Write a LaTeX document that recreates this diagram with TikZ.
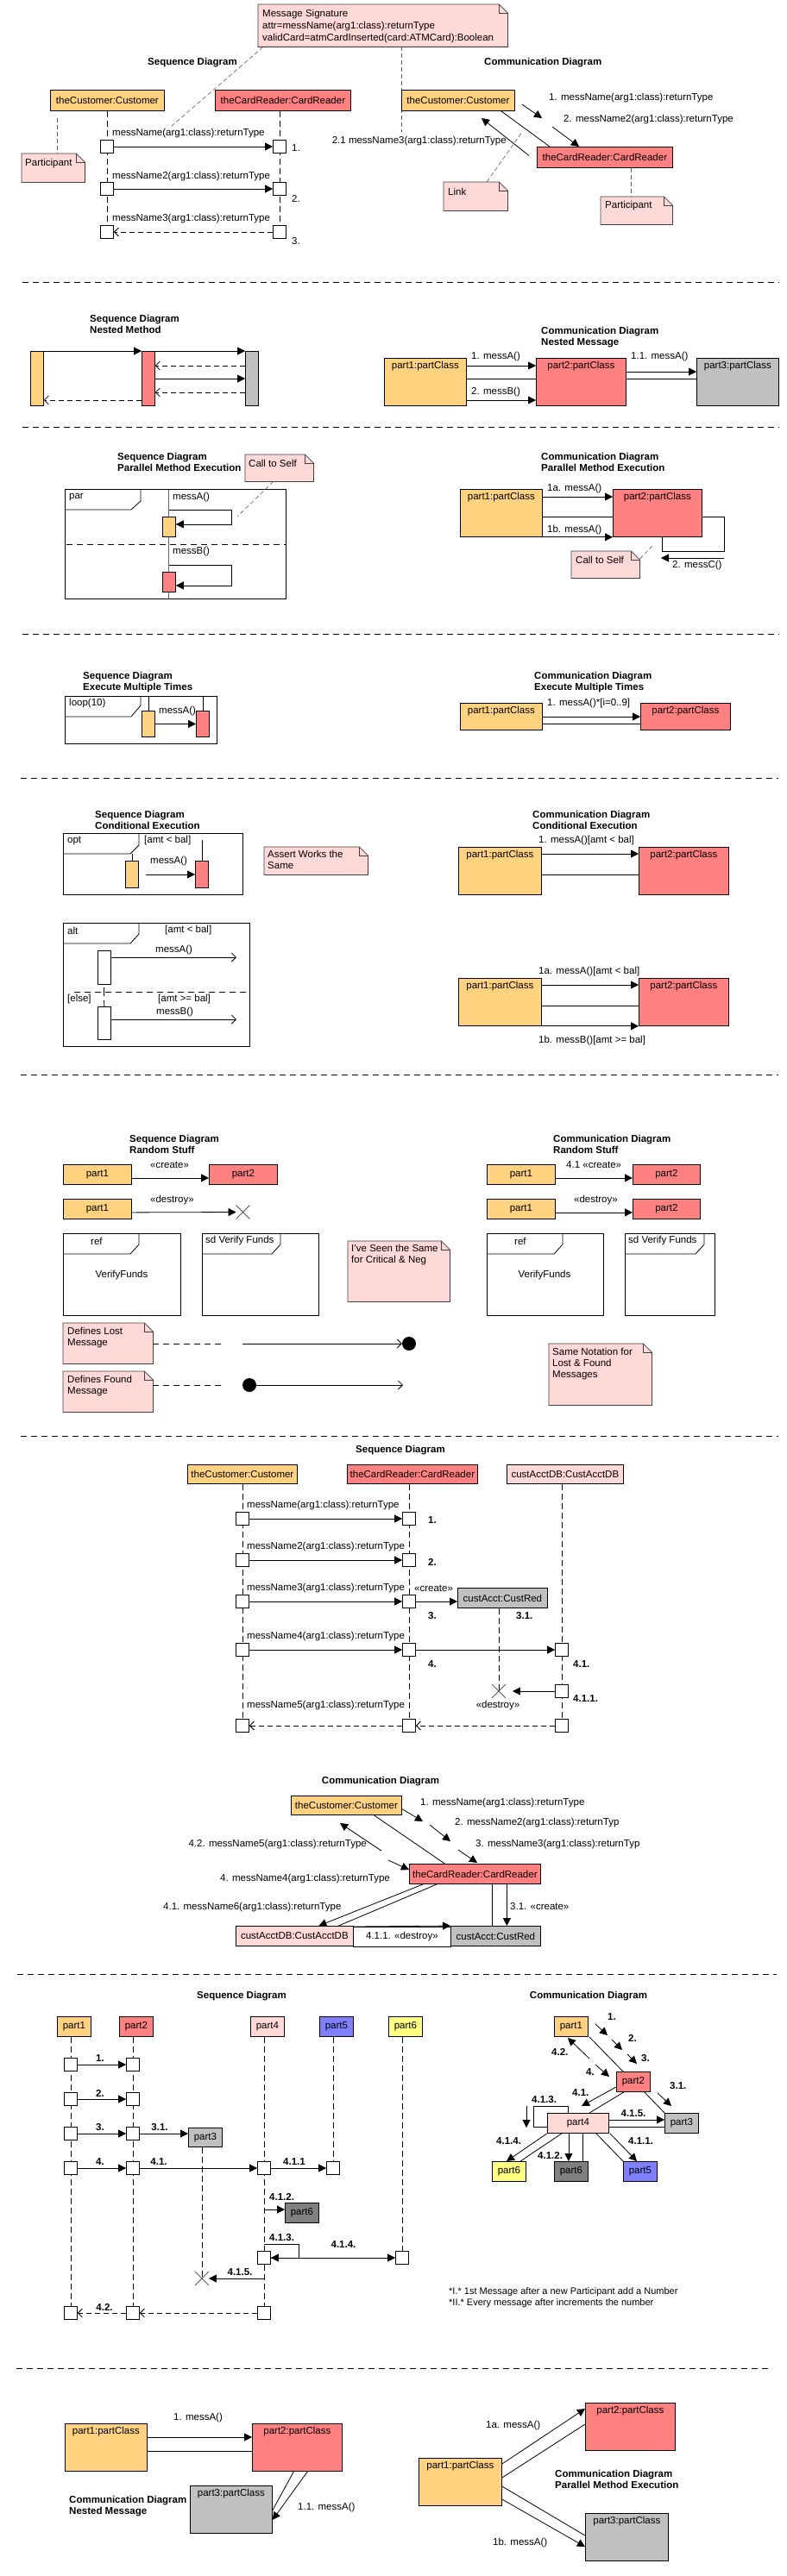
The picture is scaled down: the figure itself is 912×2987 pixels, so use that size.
\documentclass[tikz,border=0pt]{standalone}
\usepackage{fontspec}
\setmainfont{Liberation Sans}
\usetikzlibrary{arrows.meta, positioning, shapes.misc}
\definecolor{custcol}{RGB}{255,210,128}
\definecolor{readcol}{RGB}{255,128,128}
\definecolor{notecol}{RGB}{255,216,216}
\definecolor{greycol}{RGB}{192,192,192}
\definecolor{darkcol}{RGB}{128,128,128}
\definecolor{bluecol}{RGB}{128,128,255}
\definecolor{yelcol}{RGB}{255,255,128}
\pgfdeclarelayer{back}
\pgfsetlayers{back,main}
\newcommand{\foldnote}[1]{%
  \fill[white] ([xshift=-10pt]#1.north east) -- (#1.north east) -- ([yshift=-10pt]#1.north east) -- cycle;
  \draw[noteline] (#1.north west) -- ([xshift=-10pt]#1.north east) -- ([yshift=-10pt]#1.north east) -- (#1.south east) -- (#1.south west) -- cycle;
  \draw[noteline] ([xshift=-10pt]#1.north east) |- ([yshift=-10pt]#1.north east);}
\begin{document}
\begin{tikzpicture}[x=1pt, y=-1pt, font=\fontsize{11.5}{13}\selectfont,
    obj/.style={draw, line width=0.8pt, inner sep=0pt, anchor=north west},
    act/.style={draw, fill=white, line width=0.8pt, inner sep=0pt, minimum width=15pt, minimum height=15pt},
    bar/.style={draw, line width=0.8pt, inner sep=0pt, anchor=north west, minimum width=15pt},
    inlbl/.style={anchor=north, inner sep=0pt, yshift=-4pt},
    lbl/.style={inner sep=0pt, anchor=west},
    num/.style={inner sep=0pt, font=\fontsize{11.5}{13}\selectfont\bfseries},
    head/.style={inner sep=0pt, anchor=west, align=left, font=\fontsize{11.5}{13}\selectfont\bfseries},
    notebox/.style={fill=notecol, inner sep=0pt, anchor=north west},
    notetext/.style={inner sep=0pt, anchor=north west, align=left},
    noteline/.style={draw=black!75, line width=0.8pt},
    msg/.style={line width=0.8pt, -{Triangle[length=9pt, width=9pt]}},
    call/.style={line width=0.8pt, -{Straight Barb[length=5pt, width=10pt]}},
    ret/.style={call, dash pattern=on 6pt off 4pt},
    link/.style={line width=0.8pt},
    life/.style={line width=0.7pt, dash pattern=on 7pt off 4pt},
    tie/.style={draw=black!65, line width=0.6pt, dash pattern=on 5pt off 3pt},
    sep/.style={line width=0.8pt, dash pattern=on 7pt off 5pt},
    xmark/.style={cross out, draw=black!65, line width=0.9pt, inner sep=0pt, minimum width=15pt, minimum height=15pt}
  ]
\begin{pgfonlayer}{back}
\fill[white] (0,0) rectangle (912,2987);
\end{pgfonlayer}
\useasboundingbox (0,0) rectangle (912,2987);

\node (sig) at (299,5) [notebox, minimum width=289pt, minimum height=49pt] {};
\foldnote{sig}
\node (sigtxt) at (304,11) [notetext, font=\fontsize{11.5}{14}\selectfont] {Message Signature\\attr=messName(arg1:class):returnType\\validCard=atmCardInserted(card:ATMCard):Boolean};
\node (sqh1) at (171,73) [head] {Sequence Diagram};
\node (cmh1) at (561,73) [head] {Communication Diagram};
\node (sc) at (58,104) [obj, fill=custcol, minimum width=132pt, minimum height=24pt] {theCustomer:Customer};
\node (sr) at (249,104) [obj, fill=readcol, minimum width=157pt, minimum height=24pt] {theCardReader:CardReader};
\node (sa1) at (124,170) [act] {};
\node (sb1) at (324,170) [act] {};
\node (sa2) at (124,219) [act] {};
\node (sb2) at (324,219) [act] {};
\node (sa3) at (124,269) [act] {};
\node (sb3) at (324,269) [act] {};
\begin{pgfonlayer}{back}
\draw[life] (sa1 |- sc.south) -- (sa3.center);
\draw[life] (sb1 |- sr.south) -- (sb3.center);
\end{pgfonlayer}
\draw[msg] (sa1) -- (sb1);
\draw[msg] (sa2) -- (sb2);
\draw[ret] (sb3) -- (sa3);
\node (sm1) at (130,155) [lbl] {messName(arg1:class):returnType};
\node (sm2) at (130,205) [lbl] {messName2(arg1:class):returnType};
\node (sm3) at (130,254) [lbl] {messName3(arg1:class):returnType};
\node (sn1) at (338,172) [lbl] {1.};
\node (sn2) at (338,230) [lbl] {2.};
\node (sn3) at (338,280) [lbl] {3.};
\coordinate (st1) at (199,146);
\coordinate (st2) at (465,153);
\draw[tie] ([xshift=6pt]sig.south west) -- (st1);
\draw[tie] (st2 |- sig.south) -- (st2);
\node (pn1) at (25,178) [notebox, minimum width=73pt, minimum height=33pt] {};
\foldnote{pn1}
\node (pn1t) at (29,190) [lbl] {Participant};
\coordinate (pt1) at (66,137);
\draw[tie] (pt1) -- (pt1 |- pn1.north);
\node (cc) at (465,104) [obj, fill=custcol, minimum width=131pt, minimum height=24pt] {theCustomer:Customer};
\node (cr) at (622,170) [obj, fill=readcol, minimum width=157pt, minimum height=24pt] {theCardReader:CardReader};
\draw[link] ([xshift=-16pt]cc.south east) -- ([xshift=15pt]cr.north west);
\coordinate (c1s) at (605,121);
\coordinate (c1e) at (628,137);
\coordinate (c2s) at (640,147);
\coordinate (c2e) at (671,170);
\coordinate (c3e) at (558,137);
\draw[msg] (c1s) -- (c1e);
\draw[msg] (c2s) -- (c2e);
\draw[msg] ([shift={(-9pt,2pt)}]cr.west) -- (c3e);
\node (cl1) at (636,114) [lbl] {1. messName(arg1:class):returnType};
\node (cl2) at (653,139) [lbl] {2. messName2(arg1:class):returnType};
\node (cl3) at (587,164) [lbl, anchor=east] {2.1 messName3(arg1:class):returnType};
\node (ln) at (514,211) [notebox, minimum width=74pt, minimum height=33pt] {};
\foldnote{ln}
\node (lnt) at (519,222) [lbl] {Link};
\coordinate (lt) at (605,153);
\draw[tie] ([xshift=13pt]ln.north) -- (lt);
\node (pn2) at (696,228) [notebox, minimum width=83pt, minimum height=32pt] {};
\foldnote{pn2}
\node (pn2t) at (701,239) [lbl] {Participant};
\coordinate (pl2) at ([xshift=30pt]cr.south);
\draw[tie] (pl2) -- (pl2 |- pn2.north);
\draw[sep] (26,327) -- (903,327);

\node (sqh2) at (104,375.5) [head] {Sequence Diagram\\Nested Method};
\node (nb1) at (35,407) [bar, fill=custcol, minimum height=63pt] {};
\node (nb2) at (164,407) [bar, fill=readcol, minimum height=63pt] {};
\node (nb3) at (284,407) [bar, fill=greycol, minimum height=63pt] {};
\draw[msg] (nb1.north east) -- (nb2.north west);
\draw[msg] (nb2.north east) -- (nb3.north west);
\draw[ret] ([yshift=-17pt]nb3.north west) -- ([yshift=-17pt]nb2.north east);
\draw[msg] ([yshift=-32pt]nb2.north east) -- ([yshift=-32pt]nb3.north west);
\draw[ret] ([yshift=-48pt]nb3.north west) -- ([yshift=-48pt]nb2.north east);
\draw[ret] ([yshift=-57pt]nb2.north west) -- ([yshift=-57pt]nb1.north east);
\node (cmh2) at (627,391.5) [head] {Communication Diagram\\Nested Message};
\node (q1) at (445,415) [obj, fill=custcol, minimum width=95pt, minimum height=55pt, label={[inlbl]north:{part1:partClass}}] {};
\node (q2) at (621,415) [obj, fill=readcol, minimum width=104pt, minimum height=55pt, label={[inlbl]north:{part2:partClass}}] {};
\node (q3) at (807,415) [obj, fill=greycol, minimum width=95pt, minimum height=55pt, label={[inlbl]north:{part3:partClass}}] {};
\draw[msg] ([yshift=-9pt]q1.north east) -- ([yshift=-9pt]q2.north west);
\draw[link] ([yshift=-24pt]q1.north east) -- ([yshift=-24pt]q2.north west);
\draw[msg] ([yshift=-49pt]q1.north east) -- ([yshift=-49pt]q2.north west);
\draw[msg] ([yshift=-16pt]q2.north east) -- ([yshift=-16pt]q3.north west);
\draw[link] ([yshift=-24pt]q2.north east) -- ([yshift=-24pt]q3.north west);
\node (q1m) at (546,414) [lbl] {1. messA()};
\node (q2m) at (546,455) [lbl] {2. messB()};
\node (q3m) at (731,414) [lbl] {1.1. messA()};
\draw[sep] (26,495) -- (903,495);

\node (sqh3) at (136,535.5) [head] {Sequence Diagram\\Parallel Method Execution};
\node (cn1) at (284,527) [notebox, minimum width=79pt, minimum height=31pt] {};
\foldnote{cn1}
\node (cn1t) at (288,537) [lbl] {Call to Self};
\node (par) at (75,567) [obj, minimum width=256pt, minimum height=127pt] {};
\draw[link] (163,567) -- (163,581) -- (152,591) -- (75,591);
\node (part) at (80,577) [lbl] {par};
\begin{pgfonlayer}{back}
\draw[draw=black!60, line width=0.6pt] (195.5,567) -- (195.5,694);
\end{pgfonlayer}
\draw[sep] (77,631) -- (331,631);
\node (pa) at (188,599) [bar, fill=custcol, minimum height=23pt] {};
\node (pb) at (188,663) [bar, fill=readcol, minimum height=23pt] {};
\coordinate (ps1) at (268,591);
\coordinate (ps2) at (268,655);
\draw[msg] (pa.center |- ps1) -- (ps1) |- ([yshift=3pt]pa.east);
\draw[msg] (pb.center |- ps2) -- (ps2) |- ([yshift=-4pt]pb.east);
\node (pam) at (200,577) [lbl] {messA()};
\node (pbm) at (200,640) [lbl] {messB()};
\coordinate (ct1) at (275,599);
\draw[tie] ([xshift=-7pt]cn1.south) -- (ct1);
\node (cmh3) at (627,535.5) [head] {Communication Diagram\\Parallel Method Execution};
\node (r1) at (533,567) [obj, fill=custcol, minimum width=95pt, minimum height=55pt, label={[inlbl]north:{part1:partClass}}] {};
\node (r2) at (710,567) [obj, fill=readcol, minimum width=103pt, minimum height=55pt, label={[inlbl]north:{part2:partClass}}] {};
\draw[msg] ([yshift=-9pt]r1.north east) -- ([yshift=-9pt]r2.north west);
\draw[link] ([yshift=-32pt]r1.north east) -- ([yshift=-32pt]r2.north west);
\draw[msg] (r1.south east) -- (r2.south west);
\node (r1m) at (634,567) [lbl] {1a. messA()};
\node (r2m) at (634,615) [lbl] {1b. messA()};
\coordinate (rl) at (839,639);
\draw[link] ([yshift=-32pt]r2.north east) -| (rl) -| ([xshift=5pt]r2.south);
\coordinate (rc1) at (839,647);
\coordinate (rc2) at (766,647);
\draw[msg] (rc1) -- (rc2);
\node (rcm) at (779,656) [lbl] {2. messC()};
\node (cn2) at (662,639) [notebox, minimum width=79pt, minimum height=31pt] {};
\foldnote{cn2}
\node (cn2t) at (667,649) [lbl] {Call to Self};
\coordinate (ct2) at (756,633);
\draw[tie] ([yshift=-9pt]cn2.north east) -- (ct2);
\draw[sep] (26,735) -- (903,735);

\node (sqh4) at (96,791.5) [head] {Sequence Diagram\\Execute Multiple Times};
\node (lp) at (75,807) [obj, minimum width=176pt, minimum height=55pt] {};
\draw[link] (163,807) -- (163,818) -- (152,831) -- (75,831);
\node (lpt) at (80,816) [lbl] {loop(10)};
\node (la) at (164,824) [bar, fill=custcol, minimum height=30pt] {};
\node (lb) at (227,824) [bar, fill=readcol, minimum height=30pt] {};
\draw[link] (la.north) -- (la.north |- lp.north);
\draw[link] (lb.north) -- (lb.north |- lp.north);
\draw[msg] (la) -- (lb);
\node (lam) at (184,825) [lbl] {messA()};
\node (cmh4) at (619,791.5) [head] {Communication Diagram\\Execute Multiple Times};
\node (s1) at (533,815) [obj, fill=custcol, minimum width=95pt, minimum height=31pt, label={[inlbl]north:{part1:partClass}}] {};
\node (s2) at (742,815) [obj, fill=readcol, minimum width=104pt, minimum height=31pt, label={[inlbl]north:{part2:partClass}}] {};
\draw[msg] ([yshift=-16pt]s1.north east) -- ([yshift=-16pt]s2.north west);
\draw[link] ([yshift=-24pt]s1.north east) -- ([yshift=-24pt]s2.north west);
\node (s1m) at (634,816) [lbl] {1. messA()*[i=0..9]};
\draw[sep] (24,902) -- (902,902);

\node (sqh5) at (110,950.5) [head] {Sequence Diagram\\Conditional Execution};
\node (op) at (73,966) [obj, minimum width=208pt, minimum height=71pt] {};
\draw[link] (161,966) -- (161,980) -- (151,990) -- (73,990);
\node (opt) at (78,975) [lbl] {opt};
\node (opg) at (167,975) [lbl] {[amt < bal]};
\node (oa) at (145,998) [bar, fill=custcol, minimum height=31pt] {};
\node (ob) at (226,998) [bar, fill=readcol, minimum height=31pt] {};
\coordinate (ol1) at (152,990);
\coordinate (ol2) at (234,974);
\draw[link] (oa.north) -- (oa.north |- ol1);
\draw[link] (ob.north) -- (ob.north |- ol2);
\coordinate (os) at (169,1014);
\draw[msg] (os) -- (os -| ob.west);
\node (oam) at (174,999) [lbl] {messA()};
\node (an) at (306,982) [notebox, minimum width=120pt, minimum height=32pt] {};
\foldnote{an}
\node (ant) at (310,986) [notetext] {Assert Works the\\Same};
\node (al) at (73,1070) [obj, minimum width=216pt, minimum height=143pt] {};
\draw[link] (161,1070) -- (161,1083) -- (151,1094) -- (73,1094);
\node (alt) at (78,1079) [lbl] {alt};
\node (alg1) at (191,1079) [lbl] {[amt < bal]};
\node (aa) at (113,1102) [act, anchor=north west, minimum height=39pt] {};
\coordinate (ae1) at (274,1110);
\draw[call] (aa.east |- ae1) -- (ae1);
\node (aam) at (180,1102) [lbl] {messA()};
\draw[sep] (86,1150) -- (289,1150);
\node (ale) at (78,1159) [lbl] {[else]};
\node (alg2) at (183,1159) [lbl] {[amt >= bal]};
\node (ab) at (113,1167) [act, anchor=north west, minimum height=38pt] {};
\coordinate (ae2) at (274,1182);
\draw[call] (ab.east |- ae2) -- (ae2);
\node (abm) at (181,1174) [lbl] {messB()};
\coordinate (al1) at (120.5,1145);
\coordinate (al2) at (120.5,1155);
\coordinate (al3) at (120.5,1160);
\draw[link] (al1) -- (al2);
\draw[link] (al3) -- (ab.north);
\node (cmh5) at (617,950.5) [head] {Communication Diagram\\Conditional Execution};
\node (t1) at (531,982) [obj, fill=custcol, minimum width=96pt, minimum height=55pt, label={[inlbl]north:{part1:partClass}}] {};
\node (t2) at (740,982) [obj, fill=readcol, minimum width=104pt, minimum height=55pt, label={[inlbl]north:{part2:partClass}}] {};
\draw[msg] ([yshift=-8pt]t1.north east) -- ([yshift=-8pt]t2.north west);
\draw[link] ([yshift=-32pt]t1.north east) -- ([yshift=-32pt]t2.north west);
\node (t1m) at (624,975) [lbl] {1. messA()[amt < bal]};
\node (u1) at (531,1134) [obj, fill=custcol, minimum width=96pt, minimum height=55pt, label={[inlbl]north:{part1:partClass}}] {};
\node (u2) at (740,1134) [obj, fill=readcol, minimum width=104pt, minimum height=55pt, label={[inlbl]north:{part2:partClass}}] {};
\draw[msg] ([yshift=-8pt]u1.north east) -- ([yshift=-8pt]u2.north west);
\draw[link] ([yshift=-32pt]u1.north east) -- ([yshift=-32pt]u2.north west);
\draw[msg] (u1.south east) -- (u2.south west);
\node (u1m) at (624,1127) [lbl] {1a. messA()[amt < bal]};
\node (u2m) at (624,1207) [lbl] {1b. messB()[amt >= bal]};
\draw[sep] (24,1246) -- (902,1246);

\node (sqh6) at (150,1326.5) [head] {Sequence Diagram\\Random Stuff};
\node (v1) at (73,1350) [obj, fill=custcol, minimum width=79pt, minimum height=23pt] {part1};
\node (v2) at (242,1350) [obj, fill=readcol, minimum width=79pt, minimum height=23pt] {part2};
\draw[msg] ([yshift=-4pt]v1.east) -- ([yshift=-4pt]v2.west);
\node (v1m) at (174,1351) [lbl] {«create»};
\node (v3) at (73,1390) [obj, fill=custcol, minimum width=79pt, minimum height=23pt] {part1};
\node (vx) at (281.5,1405.5) [xmark] {};
\draw[msg] ([yshift=-4pt]v3.east) -- (vx.west);
\node (v3m) at (174,1392) [lbl] {«destroy»};
\node (rf) at (73,1430) [obj, minimum width=136pt, minimum height=95pt] {};
\draw[link] (161,1430) -- (161,1443) -- (151,1454) -- (73,1454);
\node (rft) at (105,1439) [lbl] {ref};
\node (rfv) at (141,1479) [inner sep=0pt] {VerifyFunds};
\node (sf) at (234,1430) [obj, minimum width=135pt, minimum height=95pt] {};
\draw[link] (325,1430) -- (325,1443) -- (315,1454) -- (234,1454);
\node (sft) at (238,1439) [lbl] {sd Verify Funds};
\node (isn) at (403,1439) [notebox, minimum width=118pt, minimum height=70pt] {};
\foldnote{isn}
\node (isnt) at (407,1443) [notetext] {I've Seen the Same\\for Critical \& Neg};
\node (lmn) at (73,1534) [notebox, minimum width=104pt, minimum height=47pt] {};
\foldnote{lmn}
\node (lmnt) at (78,1539) [notetext] {Defines Lost\\Message};
\coordinate (lm1) at (258,1558);
\draw[sep] (lmn.east |- lm1) -- (lm1);
\node (lost) at (474,1558) [circle, fill, inner sep=0pt, minimum size=16pt] {};
\coordinate (lm2) at (281,1558);
\draw[call] (lm2) -- (lost.west);
\node (fmn) at (73,1590) [notebox, minimum width=104pt, minimum height=47pt] {};
\foldnote{fmn}
\node (fmnt) at (78,1595) [notetext] {Defines Found\\Message};
\coordinate (fm1) at (258,1606);
\draw[sep] (fmn.east |- fm1) -- (fm1);
\node (found) at (289,1606) [circle, fill, inner sep=0pt, minimum size=16pt] {};
\coordinate (fm2) at (467,1606);
\draw[call] (found) -- (fm2);
\node (cmh6) at (641,1326.5) [head] {Communication Diagram\\Random Stuff};
\node (w1) at (564,1350) [obj, fill=custcol, minimum width=79pt, minimum height=23pt] {part1};
\node (w2) at (733,1350) [obj, fill=readcol, minimum width=78pt, minimum height=23pt] {part2};
\draw[msg] ([yshift=-4pt]w1.east) -- ([yshift=-4pt]w2.west);
\node (w1m) at (656,1351) [lbl] {4.1 «create»};
\node (w3) at (564,1390) [obj, fill=custcol, minimum width=79pt, minimum height=23pt] {part1};
\node (w4) at (733,1390) [obj, fill=readcol, minimum width=78pt, minimum height=23pt] {part2};
\draw[msg] ([yshift=-4pt]w3.east) -- ([yshift=-4pt]w4.west);
\node (w3m) at (665,1392) [lbl] {«destroy»};
\node (rf2) at (564,1430) [obj, minimum width=135pt, minimum height=95pt] {};
\draw[link] (652,1430) -- (652,1443) -- (642,1454) -- (564,1454);
\node (rf2t) at (596,1439) [lbl] {ref};
\node (rf2v) at (631,1479) [inner sep=0pt] {VerifyFunds};
\node (sf2) at (724,1430) [obj, minimum width=104pt, minimum height=95pt] {};
\draw[link] (816,1430) -- (816,1443) -- (806,1454) -- (724,1454);
\node (sf2t) at (728,1439) [lbl] {sd Verify Funds};
\node (snn) at (636,1558) [notebox, minimum width=119pt, minimum height=71pt] {};
\foldnote{snn}
\node (snnt) at (640,1563) [notetext] {Same Notation for\\Lost \& Found\\Messages};
\draw[sep] (24,1665) -- (902,1665);

\node (sqh7) at (464,1682) [head, anchor=center] {Sequence Diagram};
\node (dc) at (217,1698) [obj, fill=custcol, minimum width=127pt, minimum height=22pt] {theCustomer:Customer};
\node (dr) at (402,1698) [obj, fill=readcol, minimum width=151pt, minimum height=22pt] {theCardReader:CardReader};
\node (dd) at (587,1698) [obj, fill=notecol, minimum width=135pt, minimum height=22pt] {custAcctDB:CustAcctDB};
\node (ea1) at (281,1761) [act] {};
\node (eb1) at (474,1761) [act] {};
\node (ea2) at (281,1809) [act] {};
\node (eb2) at (474,1809) [act] {};
\node (ea3) at (281,1857) [act] {};
\node (eb3) at (474,1857) [act] {};
\node (ea4) at (281,1913) [act] {};
\node (eb4) at (474,1913) [act] {};
\node (ed4) at (651,1913) [act] {};
\node (ed41) at (651,1961) [act] {};
\node (ea5) at (281,2001) [act] {};
\node (eb5) at (474,2001) [act] {};
\node (ed5) at (651,2001) [act] {};
\node (ek) at (530,1841) [obj, fill=greycol, minimum width=104pt, minimum height=23pt] {custAcct:CustRed};
\node (ekx) at (578,1961) [xmark] {};
\begin{pgfonlayer}{back}
\draw[life] (ea1 |- dc.south) -- (ea5.center);
\draw[life] (eb1 |- dr.south) -- (eb5.center);
\draw[life] (ed4 |- dd.south) -- (ed5.center);
\draw[life] (ekx |- ek.south) -- (ekx.center);
\end{pgfonlayer}
\draw[msg] (ea1) -- (eb1);
\draw[msg] (ea2) -- (eb2);
\draw[msg] (ea3) -- (eb3);
\draw[msg] (eb3) -- (eb3 -| ek.west);
\draw[msg] (ea4) -- (eb4);
\draw[msg] (eb4) -- (ed4);
\draw[msg] (ed41) -- ([xshift=8pt]ekx.east);
\draw[ret] (ed5) -- (eb5);
\draw[ret] (eb5) -- (ea5);
\node (em1) at (286,1746) [lbl] {messName(arg1:class):returnType};
\node (em2) at (286,1794) [lbl] {messName2(arg1:class):returnType};
\node (em3) at (286,1842) [lbl] {messName3(arg1:class):returnType};
\node (em4) at (286,1898) [lbl] {messName4(arg1:class):returnType};
\node (em5) at (286,1978) [lbl] {messName5(arg1:class):returnType};
\node (ecr) at (480,1842) [lbl] {«create»};
\node (en1) at (496,1763) [num, anchor=west] {1.};
\node (en2) at (496,1811) [num, anchor=west] {2.};
\node (en3) at (496,1874) [num, anchor=west] {3.};
\node (en31) at (598,1874) [num, anchor=west] {3.1.};
\node (en4) at (496,1930) [num, anchor=west] {4.};
\node (en41) at (664,1930) [num, anchor=west] {4.1.};
\node (en411) at (664,1970) [num, anchor=west] {4.1.1.};
\node (ede) at (577,1978) [inner sep=0pt] {«destroy»};

\node (cmh8) at (441,2066) [head, anchor=center] {Communication Diagram};
\node (fc) at (337,2082) [obj, fill=custcol, minimum width=128pt, minimum height=22pt] {theCustomer:Customer};
\node (fr) at (474,2161) [obj, fill=readcol, minimum width=152pt, minimum height=23pt] {theCardReader:CardReader};
\node (fd) at (273,2233) [obj, fill=notecol, minimum width=136pt, minimum height=23pt] {custAcctDB:CustAcctDB};
\node (fl) at (409,2234) [obj, fill=white, minimum width=113pt, minimum height=23pt] {4.1.1. «destroy»};
\node (fk) at (522,2233) [obj, fill=greycol, minimum width=104pt, minimum height=23pt] {custAcct:CustRed};
\draw[link] ([xshift=32pt]fc.south) -- ([xshift=-35pt]fr.north);
\coordinate (k1a) at (465,2097);
\coordinate (k1b) at (490,2112);
\coordinate (k2a) at (498,2116);
\coordinate (k2b) at (522,2135);
\coordinate (k3a) at (531,2145);
\coordinate (k3b) at (553,2160);
\coordinate (k42a) at (442,2146);
\coordinate (k42b) at (394,2114);
\coordinate (k4a) at (450,2157);
\coordinate (k4b) at (474,2168);
\draw[msg] (k1a) -- (k1b);
\draw[msg] (k2a) -- (k2b);
\draw[msg] (k3a) -- (k3b);
\draw[msg] (k42a) -- (k42b);
\draw[msg] (k4a) -- (k4b);
\draw[msg] ([xshift=-60pt]fr.south) -- ([xshift=28pt]fd.north);
\draw[link] ([xshift=-44pt]fr.south) -- ([xshift=51pt]fd.north);
\coordinate (fk1) at ([xshift=-4pt]fk.north);
\coordinate (fk2) at ([xshift=13pt]fk.north);
\draw[link] (fk1 |- fr.south) -- (fk1);
\draw[msg] (fk2 |- fr.south) -- (fk2);
\draw[msg] (fl.north west) -- (fk.north west);
\node (k1m) at (487,2091) [lbl] {1. messName(arg1:class):returnType};
\node (k2m) at (527,2114) [lbl] {2. messName2(arg1:class):returnTyp};
\node (k3m) at (551,2139) [lbl] {3. messName3(arg1:class):returnTyp};
\node (k42m) at (425,2139) [lbl, anchor=east] {4.2. messName5(arg1:class):returnType};
\node (k4m) at (255,2178) [lbl] {4. messName4(arg1:class):returnType};
\node (k41m) at (189,2211) [lbl] {4.1. messName6(arg1:class):returnType};
\node (k31m) at (591,2211) [lbl] {3.1. «create»};
\draw[sep] (20,2289) -- (900,2289);

\node (sqh9) at (280,2315) [head, anchor=center] {Sequence Diagram};
\node (g1) at (66,2338) [obj, fill=custcol, minimum width=39pt, minimum height=23pt] {part1};
\node (g2) at (138,2338) [obj, fill=readcol, minimum width=39pt, minimum height=23pt] {part2};
\node (g4) at (290,2338) [obj, fill=notecol, minimum width=39pt, minimum height=23pt] {part4};
\node (g5) at (370,2338) [obj, fill=bluecol, minimum width=39pt, minimum height=23pt] {part5};
\node (g6) at (450,2338) [obj, fill=yelcol, minimum width=39pt, minimum height=23pt] {part6};
\node (h11) at (82,2394) [act] {};
\node (h21) at (154,2394) [act] {};
\node (h12) at (82,2434) [act] {};
\node (h22) at (154,2434) [act] {};
\node (h13) at (82,2474) [act] {};
\node (h23) at (154,2474) [act] {};
\node (h14) at (82,2514) [act] {};
\node (h24) at (154,2514) [act] {};
\node (h44) at (306,2514) [act] {};
\node (h54) at (386,2514) [act] {};
\node (h45) at (306,2618) [act] {};
\node (h65) at (466,2618) [act] {};
\node (h16) at (82,2682) [act] {};
\node (h26) at (154,2682) [act] {};
\node (h46) at (306,2682) [act] {};
\node (g3) at (218,2467) [obj, fill=greycol, minimum width=39pt, minimum height=22pt] {part3};
\node (g7) at (330,2554) [obj, fill=darkcol, minimum width=39pt, minimum height=23pt] {part6};
\node (gx) at (234,2642) [xmark] {};
\begin{pgfonlayer}{back}
\draw[life] (h11 |- g1.south) -- (h16.center);
\draw[life] (h21 |- g2.south) -- (h26.center);
\draw[life] (h44 |- g4.south) -- (h46.center);
\draw[life] (h54 |- g5.south) -- (h54.center);
\draw[life] (h65 |- g6.south) -- (h65.center);
\draw[life] (gx |- g3.south) -- (gx.center);
\end{pgfonlayer}
\draw[msg] (h11) -- (h21);
\draw[msg] (h12) -- (h22);
\draw[msg] (h13) -- (h23);
\draw[msg] (h23) -- (h23 -| g3.west);
\draw[msg] (h14) -- (h24);
\draw[msg] (h24) -- (h44);
\draw[msg] (h44) -- (h54);
\coordinate (hq) at (306,2562);
\draw[msg] (hq) -- (hq -| g7.west);
\coordinate (hs) at (346,2602);
\draw[msg] (hs -| h45) -- (hs) |- (h45.east);
\draw[msg] (h45) -- (h65);
\coordinate (hx) at (306,2642);
\draw[msg] (hx) -- (gx.east);
\draw[ret] (h46) -- (h26);
\draw[ret] (h26) -- (h16);
\node (hn1) at (116,2387) [num] {1.};
\node (hn2) at (116,2427) [num] {2.};
\node (hn3) at (116,2467) [num] {3.};
\node (hn31) at (185,2467) [num] {3.1.};
\node (hn4) at (116,2507) [num] {4.};
\node (hn41) at (184,2507) [num] {4.1.};
\node (hn411) at (341,2507) [num] {4.1.1};
\node (hn412) at (312,2547) [num, anchor=west] {4.1.2.};
\node (hn413) at (312,2595) [num, anchor=west] {4.1.3.};
\node (hn414) at (398,2603) [num] {4.1.4.};
\node (hn415) at (278,2635) [num] {4.1.5.};
\node (hn42) at (121,2675) [num] {4.2.};

\node (cmh9) at (682,2315) [head, anchor=center] {Communication Diagram};
\node (j1) at (642,2338) [obj, fill=custcol, minimum width=39pt, minimum height=23pt] {part1};
\node (j2) at (714,2402) [obj, fill=readcol, minimum width=39pt, minimum height=23pt] {part2};
\node (j3) at (770,2450) [obj, fill=greycol, minimum width=39pt, minimum height=23pt] {part3};
\node (j4) at (634,2450) [obj, fill=notecol, minimum width=71pt, minimum height=23pt] {part4};
\node (j6) at (570,2506) [obj, fill=yelcol, minimum width=39pt, minimum height=23pt] {part6};
\node (j7) at (642,2506) [obj, fill=darkcol, minimum width=39pt, minimum height=23pt] {part6};
\node (j5) at (722,2506) [obj, fill=bluecol, minimum width=39pt, minimum height=23pt] {part5};
\draw[link] ([xshift=1pt]j1.south east) -- ([xshift=8pt]j2.north west);
\coordinate (o1a) at (690,2347);
\coordinate (o1b) at (704,2360);
\coordinate (o2a) at (709,2365);
\coordinate (o2b) at (721,2377);
\coordinate (o3a) at (727,2382);
\coordinate (o3b) at (738,2393);
\coordinate (o42a) at (683,2387);
\coordinate (o42b) at (658,2363);
\coordinate (o4a) at (690,2394);
\coordinate (o4b) at (706,2408);
\draw[msg] (o1a) -- (o1b);
\draw[msg] (o2a) -- (o2b);
\draw[msg] (o3a) -- (o3b);
\draw[msg] (o42a) -- (o42b);
\draw[msg] (o4a) -- (o4b);
\draw[link] ([xshift=9pt]j2.south west) -- ([xshift=49pt]j4.north west);
\coordinate (o41) at (674,2442);
\draw[msg] ([yshift=-6pt]j2.west) -- (o41);
\draw[link] ([xshift=-7pt]j2.south east) -- (j3.north west);
\coordinate (o31a) at (762,2427);
\coordinate (o31b) at (778,2442);
\draw[msg] (o31a) -- (o31b);
\draw[msg] ([yshift=4pt]j4.east) -- ([yshift=4pt]j3.west);
\draw[link] ([yshift=-4pt]j4.east) -- ([yshift=-4pt]j3.west);
\coordinate (ol3) at (618,2442);
\draw[link] ([xshift=24pt]j4.north west) |- (ol3) |- ([yshift=-4pt]j4.west);
\coordinate (od1) at (610,2442);
\coordinate (od2) at (610,2467);
\draw[msg] (od1) -- (od2);
\draw[link] ([xshift=17pt]j4.south west) -- ([xshift=33pt]j6.north west);
\draw[msg] (j4.south west) -- ([xshift=17pt]j6.north west);
\coordinate (o7a) at ([xshift=-3pt]j7.north);
\coordinate (o7b) at ([xshift=13pt]j7.north);
\draw[msg] (o7a |- j4.south) -- (o7a);
\draw[link] (o7b |- j4.south) -- (o7b);
\draw[link] ([xshift=-15pt]j4.south east) -- (j5.north west);
\draw[msg] ([xshift=1pt]j4.south east) -- ([xshift=16pt]j5.north west);
\node (jn1) at (704,2339) [num, anchor=west] {1.};
\node (jn2) at (728,2363) [num, anchor=west] {2.};
\node (jn3) at (743,2387) [num, anchor=west] {3.};
\node (jn42) at (639,2379) [num, anchor=west] {4.2.};
\node (jn4) at (679,2403) [num, anchor=west] {4.};
\node (jn41) at (663,2427) [num, anchor=west] {4.1.};
\node (jn31) at (776,2419) [num, anchor=west] {3.1.};
\node (jn415) at (734,2451) [num] {4.1.5.};
\node (jn413) at (616,2435) [num, anchor=west] {4.1.3.};
\node (jn414) at (575,2483) [num, anchor=west] {4.1.4.};
\node (jn412) at (623,2499) [num, anchor=west] {4.1.2.};
\node (jn411) at (728,2483) [num, anchor=west] {4.1.1.};
\node (fn) at (520,2652) [notetext, font=\fontsize{11}{13}\selectfont] {*I.* 1st Message after a new Participant add a Number\\*II.* Every message after increments the number};
\draw[sep] (19,2746) -- (895,2746);

\node (x1) at (75,2810) [obj, fill=custcol, minimum width=95pt, minimum height=55pt, label={[inlbl]north:{part1:partClass}}] {};
\node (x2) at (292,2810) [obj, fill=readcol, minimum width=104pt, minimum height=55pt, label={[inlbl]north:{part2:partClass}}] {};
\node (x3) at (220,2882) [obj, fill=greycol, minimum width=95pt, minimum height=55pt, label={[inlbl]north:{part3:partClass}}] {};
\draw[msg] ([yshift=-16pt]x1.north east) -- ([yshift=-16pt]x2.north west);
\draw[link] ([yshift=-32pt]x1.north east) -- ([yshift=-32pt]x2.north west);
\node (x1m) at (201,2803) [lbl] {1. messA()};
\draw[msg] ([xshift=12pt]x2.south) -- ([yshift=-12pt]x3.east);
\draw[link] ([xshift=-4pt]x2.south) -- ([yshift=-1pt]x3.east);
\node (x2m) at (345,2907) [lbl] {1.1. messA()};
\node (cmh10) at (80,2906.5) [head] {Communication Diagram\\Nested Message};
\node (y2) at (678,2786) [obj, fill=readcol, minimum width=104pt, minimum height=55pt, label={[inlbl]north:{part2:partClass}}] {};
\node (y1) at (485,2850) [obj, fill=custcol, minimum width=96pt, minimum height=55pt, label={[inlbl]north:{part1:partClass}}] {};
\node (y3) at (678,2914) [obj, fill=greycol, minimum width=96pt, minimum height=55pt, label={[inlbl]north:{part3:partClass}}] {};
\draw[msg] ([yshift=-7pt]y1.north east) -- ([yshift=-7pt]y2.north west);
\draw[link] ([yshift=-23pt]y1.north east) -- ([yshift=-25pt]y2.north west);
\draw[link] ([yshift=-33pt]y1.north east) -- ([yshift=-26pt]y3.north west);
\draw[msg] ([yshift=-48pt]y1.north east) -- ([yshift=-39pt]y3.north west);
\node (y1m) at (563,2812) [lbl] {1a. messA()};
\node (y2m) at (571,2948) [lbl] {1b. messA()};
\node (cmh11) at (643,2874.5) [head] {Communication Diagram\\Parallel Method Execution};
\end{tikzpicture}
\end{document}
